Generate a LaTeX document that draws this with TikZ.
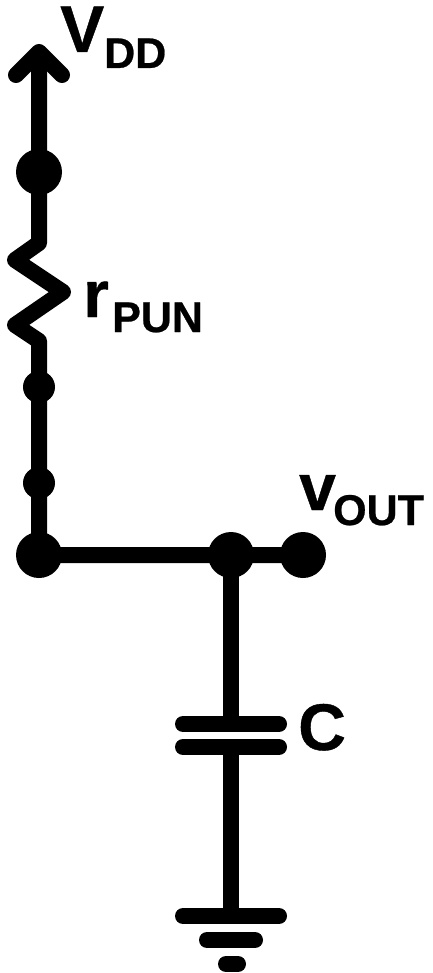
\documentclass[tikz,border=0pt]{standalone}
\usepackage{fontspec}
\setmainfont[FakeBold=0.6]{Liberation Sans Bold}
\tikzset{
  x=1pt,y=-1pt,
  wire/.style={line width=16pt,line cap=round,line join=round,draw=black},
  bigdot/.style={circle,fill=black,inner sep=0pt,minimum size=46pt},
  smalldot/.style={circle,fill=black,inner sep=0pt,minimum size=32pt},
  big/.style={inner sep=0pt,anchor=base west,font=\fontsize{66pt}{66pt}\selectfont},
  sub/.style={inner sep=0pt,anchor=base west,font=\fontsize{43pt}{43pt}\selectfont},
}
\begin{document}
\begin{tikzpicture}
\useasboundingbox (0,0) rectangle (432,973);
\coordinate (tip) at (39,52);
\coordinate (wl) at (16,75);
\coordinate (wr) at (62,75);
\node[bigdot] (d1) at (39,172) {};
\coordinate (r0) at (39,243);
\coordinate (r1) at (15,260);
\coordinate (r2) at (63,292);
\coordinate (r3) at (15,325);
\coordinate (r4) at (39,341);
\node[smalldot] (d2) at (39,387) {};
\node[smalldot] (d3) at (39,483) {};
\node[bigdot] (d4) at (39,555) {};
\node[bigdot] (d5) at (231,555) {};
\node[bigdot] (d6) at (303,555) {};
\coordinate (p1l) at (183,724);
\coordinate (p1c) at (231,724);
\coordinate (p1r) at (279,724);
\coordinate (p2l) at (183,747);
\coordinate (p2c) at (231,747);
\coordinate (p2r) at (279,747);
\coordinate (g1l) at (183,916);
\coordinate (g1c) at (231,916);
\coordinate (g1r) at (279,916);
\coordinate (g2l) at (207,940);
\coordinate (g2r) at (255,940);
\coordinate (g3l) at (226,964);
\coordinate (g3r) at (238,964);
\draw[wire] (wl) -- (tip) -- (wr);
\draw[wire,line cap=butt] (tip) -- (d1.center) -- (r0) -- (r1) -- (r2) -- (r3) -- (r4) -- (d2.center) -- (d3.center) -- (d4.center) -- (d5.center) -- (d6.center);
\draw[wire,line cap=butt] (d5.center) -- (p1c);
\draw[wire] (p1l) -- (p1r);
\draw[wire] (p2l) -- (p2r);
\draw[wire,line cap=butt] (p2c) -- (g1c);
\draw[wire] (g1l) -- (g1r);
\draw[wire] (g2l) -- (g2r);
\draw[wire] (g3l) -- (g3r);
\node[big] (lv) at (60,52) {V};
\node[sub] (ld) at (104,68) {DD};
\node[big] (lr) at (83,317) {r};
\node[sub] (lp) at (112,332) {PUN};
\node[big] (lo) at (299,510) {v};
\node[sub] (lq) at (333,525) {OUT};
\node[big] (lc) at (298,750) {C};
\end{tikzpicture}
\end{document}
